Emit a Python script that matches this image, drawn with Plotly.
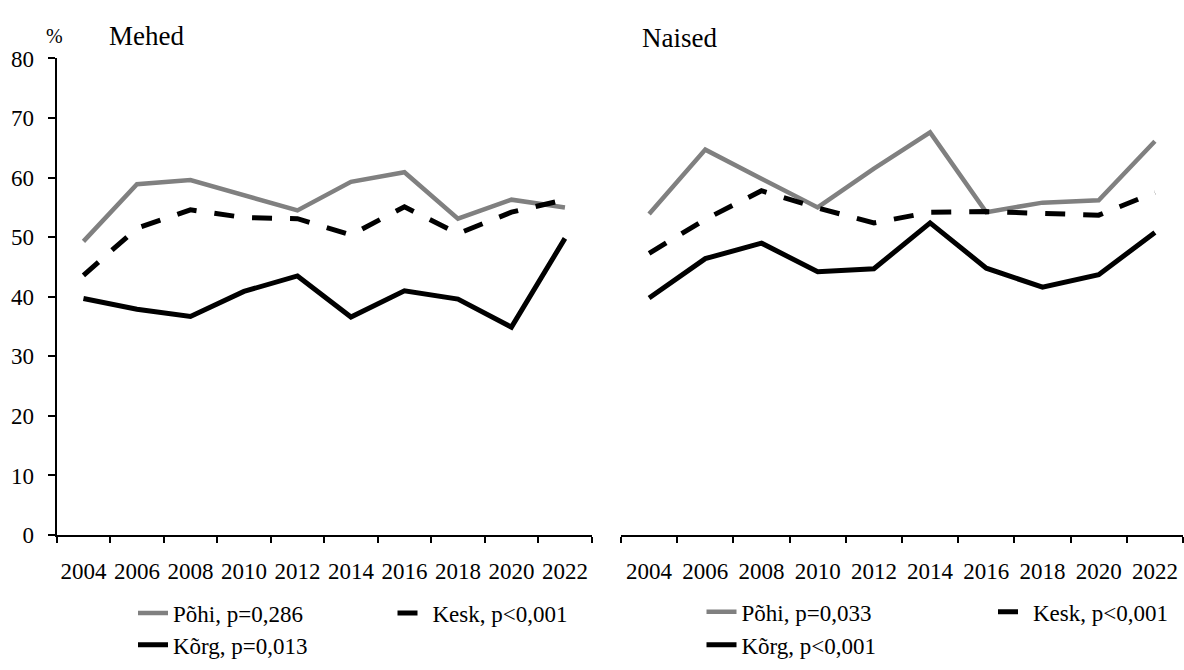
import plotly.graph_objects as go

# Survey years (category axis)
years = ["2004", "2006", "2008", "2010", "2012", "2014", "2016", "2018", "2020", "2022"]

# Mehed (men), %
mehed_pohi = [49.3, 58.9, 59.6, 57.0, 54.5, 59.3, 60.9, 53.1, 56.3, 55.0]
mehed_kesk = [43.6, 51.5, 54.6, 53.3, 53.1, 50.4, 55.1, 50.6, 54.2, 56.3]
mehed_korg = [39.7, 37.9, 36.7, 40.9, 43.5, 36.6, 41.0, 39.6, 34.9, 49.8]

# Naised (women), %
naised_pohi = [53.9, 64.7, 59.8, 55.0, 61.5, 67.6, 54.2, 55.8, 56.2, 66.1]
naised_kesk = [47.3, 53.0, 57.8, 54.9, 52.4, 54.2, 54.3, 54.1, 53.7, 57.5]
naised_korg = [39.8, 46.4, 49.0, 44.2, 44.7, 52.4, 44.8, 41.6, 43.7, 50.8]

# Legend labels
mehed_labels = ["Põhi, p=0,286", "Kesk, p<0,001", "Kõrg, p=0,013"]
naised_labels = ["Põhi, p=0,033", "Kesk, p<0,001", "Kõrg, p<0,001"]

W, H = 1184, 670
FONT = "'Liberation Serif', 'Times New Roman', 'DejaVu Serif', serif"
GREY = "#808080"
BLACK = "#000000"
DASH = "20px,18px"


def px_x(v):
    return v / W


def px_y(v):
    return 1 - v / H


styles = [
    dict(color=GREY, width=4.5, dash="solid"),
    dict(color=BLACK, width=5, dash=DASH),
    dict(color=BLACK, width=5, dash="solid"),
]

# one legend box per entry: (legend id, left edge px, row centre px)
legend_slots = [
    [("legend", 133, 624.4), ("legend2", 392.5, 624.4), ("legend3", 133, 657.2)],
    [("legend4", 701.5, 623), ("legend5", 993, 623), ("legend6", 701.5, 657.2)],
]

fig = go.Figure()

panels = [
    ("x", "y", [mehed_pohi, mehed_kesk, mehed_korg], mehed_labels),
    ("x2", "y2", [naised_pohi, naised_kesk, naised_korg], naised_labels),
]

for (xa, ya, series, labels), slots in zip(panels, legend_slots):
    for vals, name, st, slot in zip(series, labels, styles, slots):
        fig.add_trace(go.Scatter(
            x=years, y=vals, name=name, mode="lines",
            line=dict(color=st["color"], width=st["width"], dash=st["dash"]),
            xaxis=xa, yaxis=ya, legend=slot[0], hoverinfo="skip",
        ))

y_dom = [px_y(543.3), px_y(48.3)]

xcommon = dict(
    type="category", categoryorder="array", categoryarray=years,
    range=[-0.5, 9.5], tickson="boundaries", ticks="outside", ticklen=6,
    tickwidth=2, tickcolor=BLACK, showline=True, linecolor=BLACK, linewidth=2,
    showgrid=False, zeroline=False, ticklabelstandoff=14, tickangle=0,
    tickfont=dict(family=FONT, size=23, color=BLACK),
)

legend_common = dict(
    orientation="h", font=dict(family=FONT, size=23, color=BLACK),
    bgcolor="rgba(0,0,0,0)", borderwidth=0, xanchor="left", yanchor="middle",
    itemwidth=30, tracegroupgap=0,
)

legends = {}
for slots in legend_slots:
    for lid, lx, ly in slots:
        legends[lid] = dict(x=px_x(lx), y=px_y(ly), **legend_common)

fig.update_layout(
    width=W, height=H,
    margin=dict(l=0, r=0, t=0, b=0),
    paper_bgcolor="white", plot_bgcolor="white",
    font=dict(family=FONT, size=23, color=BLACK),
    xaxis=dict(domain=[px_x(56.7), px_x(591.7)], anchor="y", **xcommon),
    xaxis2=dict(domain=[px_x(621), px_x(1183)], anchor="y2", **xcommon),
    yaxis=dict(
        domain=y_dom, anchor="x", range=[0, 80], dtick=10, ticks="outside",
        ticklen=7, tickwidth=2, tickcolor=BLACK, showline=True, linecolor=BLACK,
        linewidth=2, showgrid=False, zeroline=False, ticklabelstandoff=9,
        tickfont=dict(family=FONT, size=23, color=BLACK),
    ),
    yaxis2=dict(domain=y_dom, anchor="x2", range=[0, 80], visible=False),
    showlegend=True,
    **legends,
)

annotations = [
    dict(text="%", x=px_x(54), y=px_y(24.7), xanchor="center", yanchor="middle",
         font=dict(family=FONT, size=20, color=BLACK)),
    dict(text="Mehed", x=px_x(107), y=px_y(25.3), xanchor="left", yanchor="middle",
         font=dict(family=FONT, size=27, color=BLACK)),
    dict(text="Naised", x=px_x(639.5), y=px_y(26.9), xanchor="left", yanchor="middle",
         font=dict(family=FONT, size=27, color=BLACK)),
]
for a in annotations:
    fig.add_annotation(xref="paper", yref="paper", showarrow=False, **a)

fig.write_html("out.html")
